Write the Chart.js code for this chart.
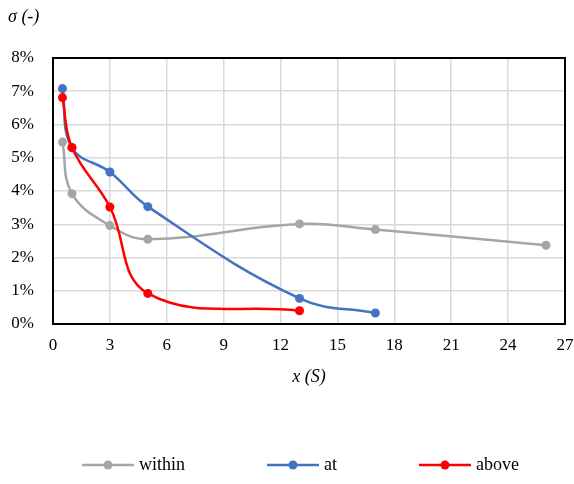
<!DOCTYPE html>
<html>
<head>
<meta charset="utf-8">
<script src="https://cdn.jsdelivr.net/npm/chart.js@4"></script>
<style>
  html, body { margin: 0; padding: 0; background: #fff; }
</style>
</head>
<body>
<canvas id="chart" width="574" height="484"></canvas>
<script>
"use strict";

// data
const seriesNames = ['within', 'at', 'above'];
const withinX = [0.5, 1, 3, 5, 13, 17, 26];
const withinY = [5.47, 3.92, 2.96, 2.55, 3.01, 2.84, 2.37];
const atX = [0.5, 1, 3, 5, 13, 17];
const atY = [7.08, 5.3, 4.57, 3.53, 0.77, 0.33];
const aboveX = [0.5, 1, 3, 5, 13];
const aboveY = [6.81, 5.31, 3.52, 0.92, 0.4];
const xTicks = [0, 3, 6, 9, 12, 15, 18, 21, 24, 27];
const yTicks = [0, 1, 2, 3, 4, 5, 6, 7, 8];
const colors = ['#A5A5A5', '#4472C4', '#FF0000'];

const FONT = "'Liberation Serif', 'Times New Roman', serif";

function toPoints(xs, ys) {
    return xs.map((x, i) => ({ x: x, y: ys[i] / 100 }));
}

// legend marker: line with a dot, with blank space on the left
function legendMarker(color) {
    const c = document.createElement('canvas');
    c.width = 128;
    c.height = 14;
    const ctx = c.getContext('2d');
    ctx.strokeStyle = color;
    ctx.lineWidth = 2.5;
    ctx.beginPath();
    ctx.moveTo(76, 7);
    ctx.lineTo(128, 7);
    ctx.stroke();
    ctx.fillStyle = color;
    ctx.beginPath();
    ctx.arc(102, 7, 4.5, 0, Math.PI * 2);
    ctx.fill();
    return c;
}

// frame round the plot and the y title
const framePlugin = {
    id: 'frame',
    beforeDatasetsDraw(chart) {
        const a = chart.chartArea;
        const ctx = chart.ctx;
        ctx.save();
        ctx.strokeStyle = '#000';
        ctx.lineWidth = 2;
        ctx.strokeRect(a.left, a.top, a.right - a.left, a.bottom - a.top);
        ctx.restore();
    },
    afterDraw(chart) {
        const ctx = chart.ctx;
        ctx.save();
        ctx.font = 'italic 18px ' + FONT;
        ctx.fillStyle = '#000';
        ctx.textBaseline = 'middle';
        ctx.textAlign = 'left';
        ctx.fillText('σ (-)', 8, 17);
        ctx.restore();
    }
};

const allX = [withinX, atX, aboveX];
const allY = [withinY, atY, aboveY];

const datasets = seriesNames.map((name, i) => ({
    label: name,
    data: toPoints(allX[i], allY[i]),
    borderColor: colors[i],
    backgroundColor: colors[i],
    borderWidth: 2.5,
    pointRadius: 4.5,
    pointHoverRadius: 4.5,
    pointBorderWidth: 0,
    pointStyle: 'circle',
    tension: 0.4,
    order: 3 - i,
    markerImg: legendMarker(colors[i])
}));

new Chart(document.getElementById('chart'), {
    type: 'scatter',
    data: { datasets: datasets },
    options: {
        responsive: false,
        animation: false,
        devicePixelRatio: 1,
        showLine: true,
        layout: { padding: { top: 58, right: 9, left: 0, bottom: 0 } },
        elements: { line: { capBezierPoints: false } },
        scales: {
            x: {
                type: 'linear',
                min: 0,
                max: 27,
                afterBuildTicks(scale) {
                    scale.ticks = xTicks.map(v => ({ value: v }));
                },
                afterFit(scale) {
                    scale.height = 122;
                    scale.paddingLeft = 0;
                    scale.paddingRight = 0;
                },
                grid: { color: '#d9d9d9', lineWidth: 1.5, drawTicks: false },
                border: { display: false },
                ticks: {
                    padding: 11,
                    color: '#000',
                    font: { family: FONT, size: 17 }
                },
                title: {
                    display: true,
                    text: 'x (S)',
                    color: '#000',
                    font: { family: FONT, size: 18, style: 'italic' },
                    padding: { top: 0, bottom: 58 }
                }
            },
            y: {
                type: 'linear',
                min: 0,
                max: 0.08,
                afterBuildTicks(scale) {
                    scale.ticks = yTicks.map(v => ({ value: v / 100 }));
                },
                afterFit(scale) {
                    scale.width = 53;
                    scale.paddingTop = 0;
                    scale.paddingBottom = 0;
                },
                grid: { color: '#d9d9d9', lineWidth: 1.5, drawTicks: false },
                border: { display: false },
                ticks: {
                    padding: 19,
                    color: '#000',
                    font: { family: FONT, size: 17 },
                    callback: v => Math.round(v * 100) + '%'
                }
            }
        },
        plugins: {
            tooltip: { enabled: false },
            legend: {
                position: 'bottom',
                align: 'start',
                labels: {
                    usePointStyle: true,
                    pointStyleWidth: 120,
                    padding: 10,
                    color: '#000',
                    font: { family: FONT, size: 18 },
                    generateLabels(chart) {
                        return chart.data.datasets.map((ds, i) => ({
                            text: ds.label,
                            fillStyle: ds.borderColor,
                            strokeStyle: ds.borderColor,
                            lineWidth: 0,
                            pointStyle: ds.markerImg,
                            fontColor: '#000',
                            hidden: false,
                            datasetIndex: i
                        }));
                    }
                }
            }
        }
    },
    plugins: [framePlugin]
});
</script>
</body>
</html>
